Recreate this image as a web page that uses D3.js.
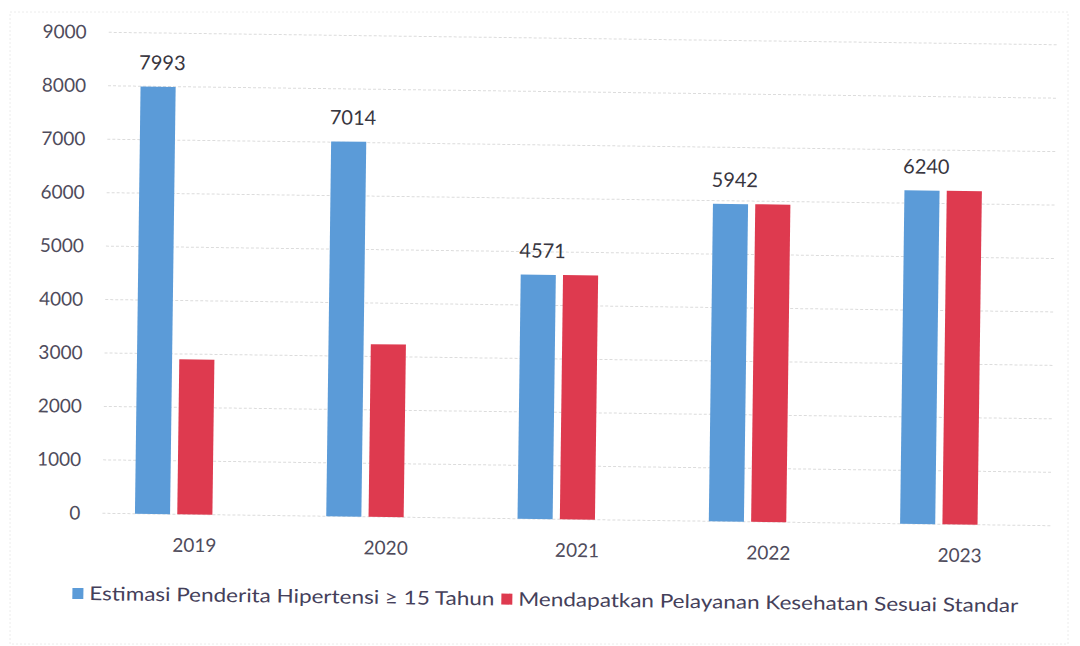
<!doctype html>
<html lang="en">
  <head>
    <meta charset="utf-8">
    <title>Hipertensi 2019-2023</title>
    <script src="https://d3js.org/d3.v7.min.js"></script>
    <style>
      body { margin: 0; background: #fff; }
      svg { display: block; font-family: Lato, "Open Sans", sans-serif; }
    </style>
  </head>
  <body>
    <div id="chart"></div>
    <script>

      // data
      const years = ["2019", "2020", "2021", "2022", "2023"];
      const estimasi = [7993, 7014, 4571, 5942, 6240];
      const pelayanan = [2900, 3230, 4571, 5942, 6240];
      const seriesNames = ["Estimasi Penderita Hipertensi \u2265  15 Tahun", "Mendapatkan Pelayanan Kesehatan Sesuai Standar"];
      const yTicks = [0, 1000, 2000, 3000, 4000, 5000, 6000, 7000, 8000, 9000];

      const W = 1080, H = 646;
      const blue = "#5b9bd8", red = "#de3a4f";

      const svg = d3.select("#chart")
        .append("svg")
          .attr("width", W)
          .attr("height", H);

      // faint frame of the scanned page
      svg.append("rect")
        .attr("x", 10).attr("y", 12)
        .attr("width", 1058).attr("height", 632)
        .attr("fill", "none")
        .attr("stroke", "#ececec")
        .attr("stroke-dasharray", "2,2");

      // the scan is tilted a little, so the whole chart is turned
      const g = svg.append("g")
        .attr("transform", "rotate(0.75, 540, 320)");

      const x0 = d3.scaleBand()
        .domain(years)
        .range([105, 1055])
        .paddingInner(0.374)
        .paddingOuter(0.17);

      // third slot stays empty, like in the original (labels sit off-centre)
      const x1 = d3.scaleBand()
        .domain(["a", "b", "c"])
        .range([0, x0.bandwidth()])
        .paddingInner(0.17);

      const y = d3.scaleLinear()
        .domain([0, 9000])
        .range([519, 38]);

      // gridlines
      g.append("g")
        .selectAll("line")
        .data(yTicks)
        .join("line")
          .attr("x1", 105)
          .attr("x2", 1055)
          .attr("y1", d => y(d))
          .attr("y2", d => y(d))
          .attr("stroke", "#dcdcdc")
          .attr("stroke-dasharray", "3,2");

      // y axis labels
      const yAxis = g.append("g")
        .attr("transform", "translate(83,0)")
        .call(d3.axisLeft(y).tickValues(yTicks).tickSize(0).tickPadding(0).tickFormat(d3.format("d")));
      yAxis.select(".domain").remove();
      yAxis.selectAll("text")
        .attr("font-size", "19px")
        .attr("font-family", "Lato, sans-serif")
        .attr("fill", "#4f4c5c");

      // x axis labels
      const xAxis = g.append("g")
        .attr("transform", "translate(0,519)")
        .call(d3.axisBottom(x0).tickSize(0).tickPadding(24));
      xAxis.select(".domain").remove();
      xAxis.selectAll("text")
        .attr("font-size", "19px")
        .attr("font-family", "Lato, sans-serif")
        .attr("fill", "#4f4c5c");

      const groups = g.append("g")
        .selectAll("g")
        .data(years)
        .join("g")
          .attr("transform", d => `translate(${x0(d)},0)`);

      // blue bars
      groups.append("rect")
        .attr("x", x1("a"))
        .attr("width", x1.bandwidth())
        .attr("y", (d, i) => y(estimasi[i]))
        .attr("height", (d, i) => y(0) - y(estimasi[i]))
        .attr("fill", blue);

      // red bars
      groups.append("rect")
        .attr("x", x1("b"))
        .attr("width", x1.bandwidth())
        .attr("y", (d, i) => y(pelayanan[i]))
        .attr("height", (d, i) => y(0) - y(pelayanan[i]))
        .attr("fill", red);

      // value labels above the blue bars
      groups.append("text")
        .attr("x", x1("a") + x1.bandwidth() / 2 + 4)
        .attr("y", (d, i) => y(estimasi[i]) - 17)
        .attr("text-anchor", "middle")
        .attr("font-size", "20px")
        .attr("font-family", "Lato, sans-serif")
        .attr("fill", "#38363f")
        .text((d, i) => estimasi[i]);

      // legend
      const legend = g.append("g")
        .attr("transform", "translate(0,606)");
      const legendItems = [
        {name: seriesNames[0], color: blue, x: 76, w: 405},
        {name: seriesNames[1], color: red, x: 505, w: 500}
      ];
      legendItems.forEach(it => {
        legend.append("rect")
          .attr("x", it.x).attr("y", -12)
          .attr("width", 11).attr("height", 11)
          .attr("fill", it.color);
        legend.append("text")
          .attr("x", it.x + 17)
          .attr("y", 0)
          .attr("font-size", "19px")
          .attr("font-family", "Lato, sans-serif")
          .attr("fill", "#44405a")
          .attr("textLength", it.w)
          .attr("lengthAdjust", "spacingAndGlyphs")
          .text(it.name);
      });

    </script>
  </body>
</html>
